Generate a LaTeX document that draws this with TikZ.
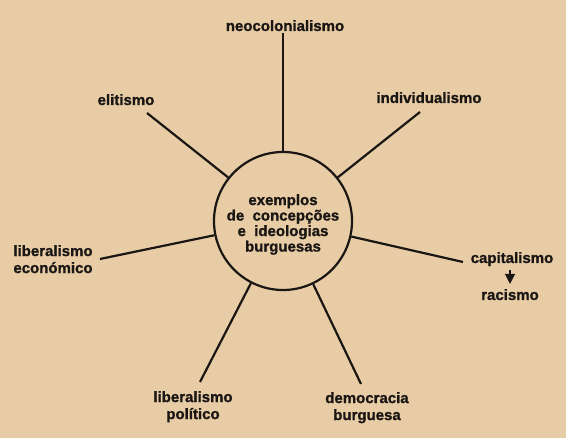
\documentclass[tikz,border=0pt]{standalone}
\usepackage{fontspec}
\setmainfont{Liberation Sans}[BoldFeatures={FakeBold=1.2}]
\usetikzlibrary{arrows.meta}
\definecolor{paper}{HTML}{E8CCA6}
\definecolor{ink}{HTML}{1A1614}
\begin{document}
\begin{tikzpicture}[x=1pt,y=-1pt,
  lbl/.style={font=\bfseries\fontsize{15}{17}\selectfont, text=ink, inner sep=0pt, align=center},
  link/.style={draw=ink, line width=2.2pt},
  hub/.style={circle, draw=ink, line width=2.2pt, minimum size=138pt, inner sep=0pt},
  tip/.style={draw=ink, fill=ink, line width=1.4pt, -{Triangle[width=10pt,length=10pt]}},
]
\fill[paper] (0,0) rectangle (566,438);
\useasboundingbox (0,0) rectangle (566,438);
\node[hub] (c) at (283,221) {};
\node[lbl, font=\bfseries\fontsize{15}{15.5}\selectfont, anchor=north] (ct) at (283,194)
  {exemplos\\de\ \ concepções\\e\ \ ideologias\\burguesas};
\node[lbl, anchor=base] (neo) at (285,31) {neocolonialismo};
\node[lbl, anchor=base] (eli) at (126,105) {elitismo};
\node[lbl, anchor=base] (ind) at (429,103) {individualismo};
\node[lbl, anchor=north] (leco) at (53,245) {liberalismo\\económico};
\node[lbl, anchor=north] (lpol) at (193,391) {liberalismo\\político};
\node[lbl, anchor=north] (dem) at (367,392) {democracia\\burguesa};
\node[lbl, anchor=base] (cap) at (512,263) {capitalismo};
\node[lbl, anchor=base] (rac) at (510,300) {racismo};
\coordinate (pneo) at (283,33);
\coordinate (peli) at (147,113);
\coordinate (pind) at (420,112);
\coordinate (pleco) at (100,259);
\coordinate (plpol) at (200,382);
\coordinate (pdem) at (361,384);
\coordinate (pcap) at (463,262);
\foreach \p in {pneo,peli,pind,pleco,plpol,pdem,pcap} \draw[link] (\p) -- (c);
\draw[tip, shorten <=4pt, shorten >=5pt] (cap.south -| rac.north) -- (rac.north);
\end{tikzpicture}
\end{document}
